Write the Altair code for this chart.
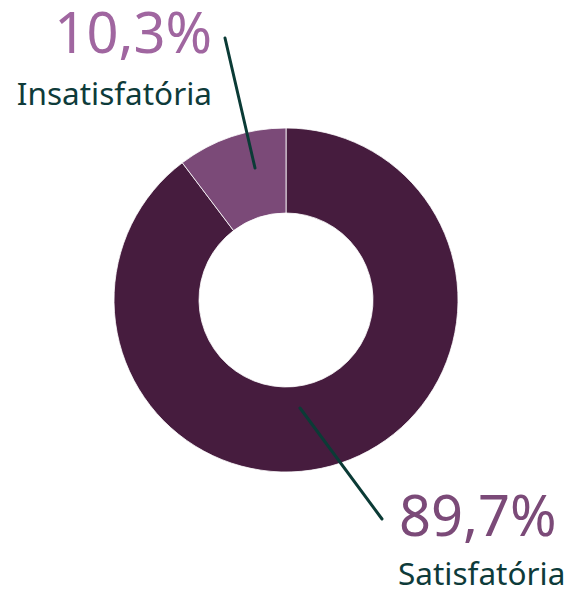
import altair as alt
import pandas as pd

# ---- data ----
categories = ["Satisfatória", "Insatisfatória"]
values = [89.7, 10.3]
pct_labels = ["89,7%", "10,3%"]
slice_colors = ["#461C3E", "#7B4A78"]
pct_colors = ["#7B4A78", "#A066A0"]

# ---- layout (page pixel coordinates, used through linear scales) ----
W, H = 556, 578
center = (286, 300)
# leader lines: start (on ring), end (toward label)
line_start = [(300, 408), (255, 168)]
line_end = [(382, 519), (225, 38)]
pct_anchor = [(399, 536), (212, 53)]
name_anchor = [(398, 585), (212, 105)]
aligns = ["left", "right"]

xs = alt.Scale(domain=[8, 8 + W])
ys = alt.Scale(domain=[8 + H, 8])

arc_df = pd.DataFrame({"category": categories, "value": values, "order": [0, 1]})

arc = alt.Chart(arc_df).mark_arc(
    radius=172, radius2=87, stroke="white", strokeWidth=0.8
).encode(
    theta=alt.Theta("value:Q", stack=True),
    order=alt.Order("order:Q"),
    color=alt.Color("category:N", scale=alt.Scale(domain=categories, range=slice_colors), legend=None),
    x=alt.datum(center[0], scale=xs, axis=None),
    y=alt.datum(center[1], scale=ys, axis=None),
)

lines_df = pd.DataFrame({
    "category": categories,
    "x": [p[0] for p in line_start], "y": [p[1] for p in line_start],
    "x2": [p[0] for p in line_end], "y2": [p[1] for p in line_end],
})
lines = alt.Chart(lines_df).mark_rule(color="#0B3B36", strokeWidth=3, strokeCap="round").encode(
    x=alt.X("x:Q", scale=xs, axis=None), y=alt.Y("y:Q", scale=ys, axis=None),
    x2="x2:Q", y2="y2:Q",
)

text_layers = []
for i in range(len(categories)):
    tdf = pd.DataFrame({
        "pct": [pct_labels[i]], "name": [categories[i]],
        "px": [pct_anchor[i][0]], "py": [pct_anchor[i][1]],
        "nx": [name_anchor[i][0]], "ny": [name_anchor[i][1]],
    })
    t1 = alt.Chart(tdf).mark_text(
        align=aligns[i], baseline="alphabetic", font="Noto Sans", fontSize=56, color=pct_colors[i]
    ).encode(x=alt.X("px:Q", scale=xs, axis=None), y=alt.Y("py:Q", scale=ys, axis=None), text="pct:N")
    t2 = alt.Chart(tdf).mark_text(
        align=aligns[i], baseline="alphabetic", font="Noto Sans", fontSize=31.5, color="#0E3B3A"
    ).encode(x=alt.X("nx:Q", scale=xs, axis=None), y=alt.Y("ny:Q", scale=ys, axis=None), text="name:N")
    text_layers += [t1, t2]

chart = alt.layer(arc, lines, *text_layers).properties(
    width=W, height=H, padding=0, autosize="none"
).configure_view(stroke=None)

chart.save("out.html", embed_options={"renderer": "svg", "actions": False})
